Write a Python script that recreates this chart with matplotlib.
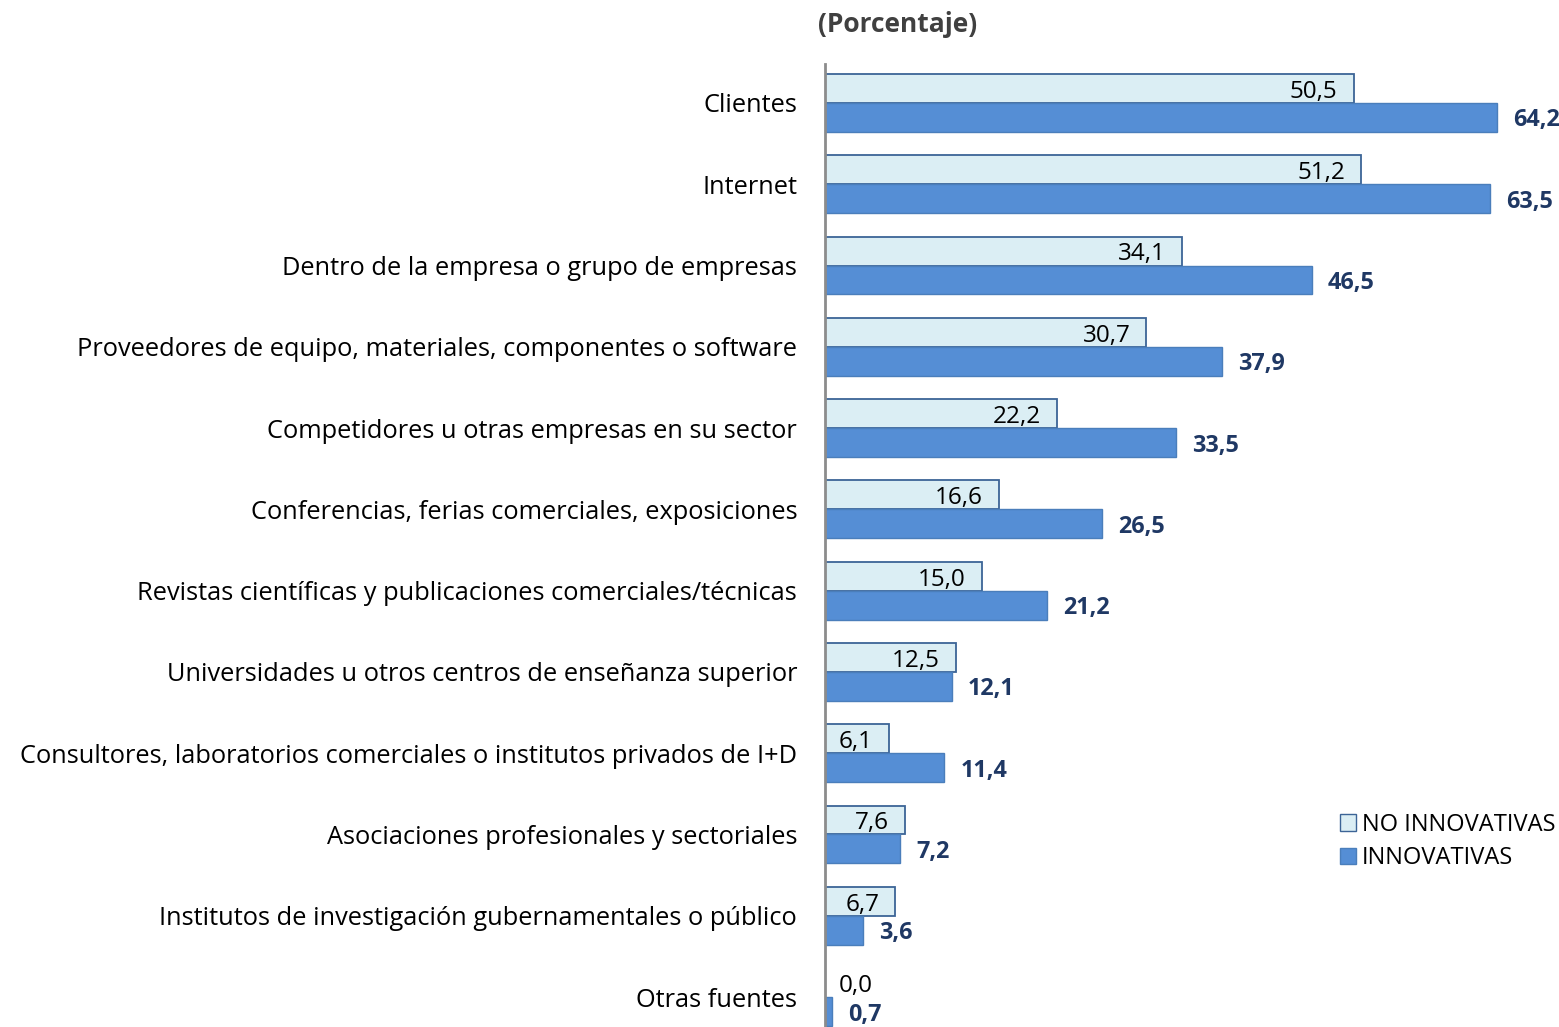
import matplotlib
matplotlib.use("Agg")
import matplotlib.pyplot as plt
from matplotlib.patches import Patch

categories = [
    "Clientes",
    "Internet",
    "Dentro de la empresa o grupo de empresas",
    "Proveedores de equipo, materiales, componentes o software",
    "Competidores u otras empresas en su sector",
    "Conferencias, ferias comerciales, exposiciones",
    "Revistas científicas y publicaciones comerciales/técnicas",
    "Universidades u otros centros de enseñanza superior",
    "Consultores, laboratorios comerciales o institutos privados de I+D",
    "Asociaciones profesionales y sectoriales",
    "Institutos de investigación gubernamentales o público",
    "Otras fuentes",
]
no_innovativas = [50.5, 51.2, 34.1, 30.7, 22.2, 16.6, 15.0, 12.5, 6.1, 7.6, 6.7, 0.0]
innovativas = [64.2, 63.5, 46.5, 37.9, 33.5, 26.5, 21.2, 12.1, 11.4, 7.2, 3.6, 0.7]

FONT = "Open Sans"
W, H = 1559, 1027
fig = plt.figure(figsize=(W / 100, H / 100), dpi=100)

ax_left, ax_right = 825, 1559
ax_top, ax_bot = 64, 1036
ax = fig.add_axes([ax_left / W, (H - ax_bot) / H, (ax_right - ax_left) / W, (ax_bot - ax_top) / H])

px_per_unit = 10.467
xmax = (ax_right - ax_left) / px_per_unit
ax.set_xlim(0, xmax)
n = len(categories)
ax.set_ylim(n - 1 + 0.479, -0.479)

bh = 0.356
ys = list(range(n))
ax.barh([y - bh / 2 for y in ys], no_innovativas, height=bh, color="#DBEEF4",
        edgecolor="#3C6496", linewidth=1.3)
ax.barh([y + bh / 2 for y in ys], innovativas, height=bh, color="#558ED5",
        edgecolor="#4A7EBB", linewidth=1.0)

off = 16 / px_per_unit
minr = 48 / px_per_unit
for y, v in zip(ys, no_innovativas):
    ax.text(max(v - off, minr), y - bh / 2 + 0.005, f"{v:.1f}".replace(".", ","),
            ha="right", va="center_baseline", fontsize=17.5, family=FONT, color="black")
for y, v in zip(ys, innovativas):
    ax.text(v + off, y + bh / 2, f"{v:.1f}".replace(".", ","),
            ha="left", va="center_baseline", fontsize=16.8, family=FONT, color="#1F3864",
            fontweight="bold")

ax.set_yticks(ys)
ax.set_yticklabels(categories, fontsize=18.3, family=FONT)
ax.tick_params(axis="y", length=0, pad=20)
ax.set_xticks([])
for s in ["top", "right", "bottom"]:
    ax.spines[s].set_visible(False)
ax.spines["left"].set_color("#8C8C8C")
ax.spines["left"].set_linewidth(2)

fig.text(898 / W, 1 - 25 / H, "(Porcentaje)", ha="center", va="center",
         fontsize=19, fontweight="bold", family=FONT, color="#404040")

handles = [Patch(facecolor="#DBEEF4", edgecolor="#3C6496", label="NO INNOVATIVAS"),
           Patch(facecolor="#558ED5", edgecolor="#4A7EBB", label="INNOVATIVAS")]
fig.legend(handles=handles, loc="upper left", bbox_to_anchor=(1328 / W, 1 - 801 / H),
           frameon=False, prop={"family": FONT, "size": 17}, handlelength=0.7,
           handleheight=0.7, handletextpad=0.25, labelspacing=0.4, borderpad=0)

fig.savefig("out.png", dpi=100)
